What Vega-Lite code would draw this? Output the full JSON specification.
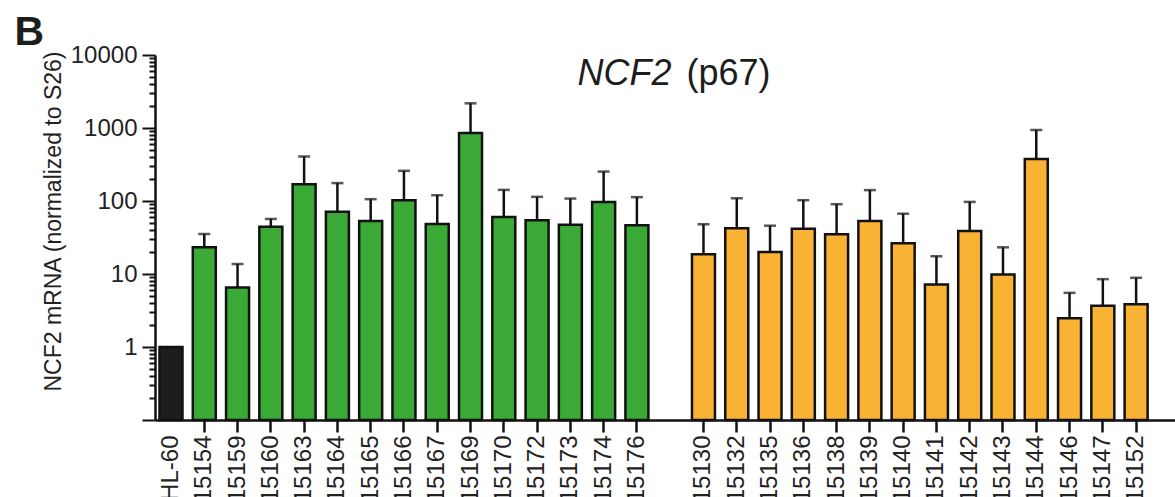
{
  "$schema": "https://vega.github.io/schema/vega-lite/v6.json",
  "width": 1020,
  "height": 365,
  "autosize": {"type": "none"},
  "padding": {"left": 155, "top": 55, "right": 0, "bottom": 77},
  "background": "white",
  "config": {"view": {"stroke": null}, "font": "Liberation Sans"},
  "data": {"values": [
    {"sample": "HL-60", "group": "control", "mean": 1.0, "upper": null},
    {"sample": "15154", "group": "green", "mean": 23.2, "upper": 35.3},
    {"sample": "15159", "group": "green", "mean": 6.55, "upper": 13.7},
    {"sample": "15160", "group": "green", "mean": 44.5, "upper": 56.8},
    {"sample": "15163", "group": "green", "mean": 170, "upper": 407},
    {"sample": "15164", "group": "green", "mean": 71.5, "upper": 176},
    {"sample": "15165", "group": "green", "mean": 53.3, "upper": 106},
    {"sample": "15166", "group": "green", "mean": 102.6, "upper": 259},
    {"sample": "15167", "group": "green", "mean": 48.5, "upper": 120},
    {"sample": "15169", "group": "green", "mean": 853, "upper": 2178},
    {"sample": "15170", "group": "green", "mean": 60.5, "upper": 142},
    {"sample": "15172", "group": "green", "mean": 54.5, "upper": 114},
    {"sample": "15173", "group": "green", "mean": 47.4, "upper": 108},
    {"sample": "15174", "group": "green", "mean": 97.2, "upper": 253},
    {"sample": "15176", "group": "green", "mean": 46.5, "upper": 113},
    {"sample": "15130", "group": "orange", "mean": 18.6, "upper": 48},
    {"sample": "15132", "group": "orange", "mean": 42.3, "upper": 109},
    {"sample": "15135", "group": "orange", "mean": 20.0, "upper": 45.9},
    {"sample": "15136", "group": "orange", "mean": 41.8, "upper": 102.6},
    {"sample": "15138", "group": "orange", "mean": 35.0, "upper": 90.4},
    {"sample": "15139", "group": "orange", "mean": 53.3, "upper": 141},
    {"sample": "15140", "group": "orange", "mean": 26.3, "upper": 67},
    {"sample": "15141", "group": "orange", "mean": 7.2, "upper": 17.5},
    {"sample": "15142", "group": "orange", "mean": 38.8, "upper": 97.2},
    {"sample": "15143", "group": "orange", "mean": 9.87, "upper": 23.2},
    {"sample": "15144", "group": "orange", "mean": 375, "upper": 939},
    {"sample": "15146", "group": "orange", "mean": 2.48, "upper": 5.52},
    {"sample": "15147", "group": "orange", "mean": 3.66, "upper": 8.5},
    {"sample": "15152", "group": "orange", "mean": 3.86, "upper": 8.87}
  ]},
  "layer": [
    {
      "mark": {"type": "bar", "stroke": "#111111", "strokeWidth": 2.5},
      "encoding": {
        "x": {
          "field": "sample", "type": "nominal", "sort": null,
          "scale": {
            "domain": ["HL-60", "15154", "15159", "15160", "15163", "15164", "15165", "15166", "15167", "15169", "15170", "15172", "15173", "15174", "15176", "gap", "15130", "15132", "15135", "15136", "15138", "15139", "15140", "15141", "15142", "15143", "15144", "15146", "15147", "15152"],
            "paddingInner": 0.309, "paddingOuter": 0.479, "align": 0.141
          },
          "axis": {
            "title": "B", "titleFontSize": 41, "titleFontWeight": "bold", "titleColor": "#1d1d1b",
            "titleAngle": 0, "titleAlign": "left", "titleBaseline": "alphabetic", "titleX": -141, "titleY": -376,
            "labelAngle": -90, "labelAlign": "right", "labelBaseline": "middle",
            "labelFontSize": 24, "labelColor": "#222222", "labelPadding": 3,
            "labelExpr": "datum.value == 'gap' ? '' : datum.label",
            "tickSize": 12, "tickWidth": 2.5,
            "tickColor": {"condition": {"test": "datum.value == 'HL-60' || datum.value == 'gap'", "value": "transparent"}, "value": "#111111"},
            "domainWidth": 2.5, "domainColor": "#111111", "labelOverlap": false
          }
        },
        "y": {
          "field": "mean", "type": "quantitative",
          "scale": {"type": "log", "domain": [0.1, 10000], "nice": false},
          "axis": {
            "title": "NCF2 mRNA (normalized to S26)", "titleFontSize": 23, "titleFontWeight": "normal",
            "titleColor": "#222222", "titlePadding": 5, "titleY": 166,
            "values": [0.1,0.2,0.3,0.4,0.5,0.6,0.7,0.8,0.9,1,2,3,4,5,6,7,8,9,10,20,30,40,50,60,70,80,90,100,200,300,400,500,600,700,800,900,1000,2000,3000,4000,5000,6000,7000,8000,9000,10000],
            "labelExpr": "datum.value >= 1 && abs(log(datum.value)/LN10 - round(log(datum.value)/LN10)) < 0.001 ? format(datum.value, 'd') : ''",
            "labelFontSize": 24, "labelColor": "#222222", "labelPadding": 5,
            "tickSize": {"condition": {"test": "abs(log(datum.value)/LN10 - round(log(datum.value)/LN10)) < 0.001", "value": 13}, "value": 6},
            "tickWidth": 2, "tickColor": "#111111",
            "domainWidth": 2.5, "domainColor": "#111111",
            "grid": false, "labelOverlap": false, "labelFlush": false
          }
        },
        "y2": {"datum": 0.1},
        "fill": {
          "field": "group", "type": "nominal",
          "scale": {"domain": ["control", "green", "orange"], "range": ["#1d1d1b", "#3aa935", "#f9b233"]},
          "legend": null
        }
      }
    },
    {
      "mark": {"type": "rule", "strokeWidth": 2.5, "color": "#111111"},
      "encoding": {
        "x": {"field": "sample", "type": "nominal", "sort": null, "axis": null},
        "y": {
          "field": "mean", "type": "quantitative",
          "axis": {
            "orient": "right", "title": "(p67)", "labels": false, "ticks": false, "domain": false, "grid": false,
            "titleAngle": 0, "titleAlign": "left", "titleBaseline": "alphabetic",
            "titleX": -489, "titleY": 29, "titleFontSize": 36, "titleFontWeight": "normal", "titleColor": "#1d1d1b"
          }
        },
        "y2": {"field": "upper"}
      }
    },
    {
      "mark": {"type": "tick", "orient": "horizontal", "size": 12, "thickness": 2.5, "color": "#111111"},
      "encoding": {
        "x": {
          "field": "sample", "type": "nominal", "sort": null,
          "axis": {
            "orient": "top", "title": "NCF2", "labels": false, "ticks": false, "domain": false, "grid": false,
            "titleAlign": "left", "titleBaseline": "alphabetic", "titleX": 422, "titleY": 29,
            "titleFontSize": 36, "titleFontStyle": "italic", "titleFontWeight": "normal", "titleColor": "#1d1d1b"
          }
        },
        "y": {"field": "upper", "type": "quantitative", "axis": null}
      }
    }
  ],
  "resolve": {"axis": {"x": "independent", "y": "independent"}}
}
